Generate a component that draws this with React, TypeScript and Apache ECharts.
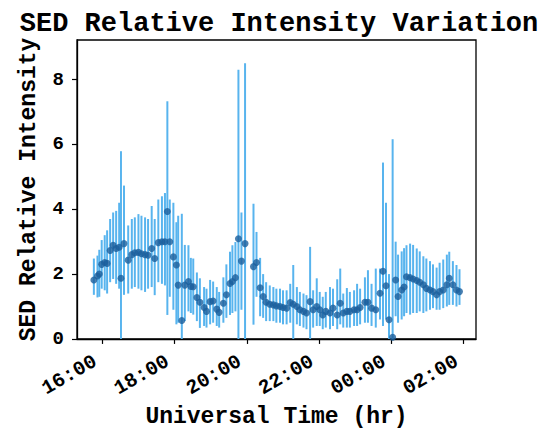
import React, { useEffect, useRef } from "react";
import * as echarts from "echarts";

// Observation times (UT, HH:MM); times after midnight belong to the next day
const times = [
  "15:46", "15:52", "15:55", "15:59", "16:04", "16:08", "16:13", "16:18", "16:23", "16:28",
  "16:31", "16:36", "16:43", "16:49", "16:54", "17:00", "17:05", "17:11", "17:16", "17:22",
  "17:27", "17:33", "17:39", "17:44", "17:48", "17:52", "17:58", "18:03", "18:06", "18:12",
  "18:17", "18:23", "18:27", "18:31", "18:37", "18:42", "18:49", "18:53", "18:59", "19:04",
  "19:10", "19:14", "19:21", "19:26", "19:32", "19:36", "19:41", "19:46", "19:51", "19:57",
  "20:11", "20:16", "20:22", "20:27", "20:32", "20:38", "20:44", "20:49", "20:55", "21:00",
  "21:06", "21:12", "21:17", "21:23", "21:28", "21:34", "21:39", "21:45", "21:50", "21:56",
  "22:01", "22:06", "22:11", "22:18", "22:23", "22:30", "22:35", "22:40", "22:46", "22:51",
  "22:58", "23:03", "23:08", "23:16", "23:21", "23:27", "23:34", "23:41", "23:46", "23:51",
  "23:56", "00:02", "00:07", "00:11", "00:17", "00:21", "00:25", "00:31", "00:36", "00:42",
  "00:47", "00:53", "00:58", "01:04", "01:09", "01:15", "01:20", "01:26", "01:32", "01:36",
  "01:42", "01:48", "01:53",
];

// SED relative intensity
const intensity = [
  1.82, 1.94, 2.0, 2.3, 2.36, 2.33, 2.73, 2.89, 2.79, 2.83,
  1.87, 2.94, 2.43, 2.6, 2.66, 2.67, 2.63, 2.6, 2.58, 2.79,
  2.48, 2.97, 3.0, 3.0, 3.93, 3.0, 2.53, 2.28, 1.66, 0.57,
  1.66, 1.77, 1.62, 1.61, 1.28, 1.13, 0.97, 0.85, 1.15, 1.17,
  0.92, 0.82, 1.1, 1.36, 1.71, 1.77, 1.89, 3.09, 2.4, 2.94,
  2.23, 2.36, 1.58, 1.31, 1.13, 1.07, 1.05, 1.02, 1.0, 0.97,
  0.95, 1.12, 1.07, 1.0, 0.9, 0.85, 0.8, 1.15, 0.9, 1.0,
  0.9, 0.74, 0.85, 0.8, 0.95, 0.74, 1.1, 0.8, 0.85, 0.85,
  0.9, 0.9, 0.97, 1.13, 1.13, 0.95, 0.9, 1.41, 2.09, 1.64,
  0.59, 0.05, 1.82, 1.31, 1.51, 1.6, 1.92, 1.89, 1.85, 1.8,
  1.75, 1.67, 1.56, 1.51, 1.46, 1.36, 1.46, 1.51, 1.67, 1.87,
  1.67, 1.51, 1.46,
];

// Lower end of each error bar
const errLow = [
  1.36, 1.28, 1.3, 1.55, 1.5, 1.4, 1.75, 1.85, 1.7, 1.55,
  0.0, 1.36, 1.4, 1.55, 1.6, 1.55, 1.5, 1.45, 1.55, 1.6,
  1.35, 1.75, 1.7, 1.65, 0.74, 1.3, 0.9, 0.45, 0.5, 0.0,
  0.55, 0.85, 0.8, 0.75, 0.55, 0.34, 0.4, 0.35, 0.45, 0.5,
  0.4, 0.35, 0.5, 0.65, 0.74, 0.8, 0.85, 0.0, 0.9, 0.0,
  0.44, 1.3, 0.7, 0.65, 0.55, 0.55, 0.55, 0.5, 0.5, 0.45,
  0.45, 0.5, 0.0, 0.45, 0.4, 0.35, 0.3, 0.0, 0.35, 0.4,
  0.4, 0.3, 0.35, 0.3, 0.4, 0.3, 0.45, 0.35, 0.35, 0.35,
  0.4, 0.4, 0.45, 0.5, 0.5, 0.4, 0.35, 0.6, 0.4, 0.6,
  0.0, 0.0, 0.7, 0.5, 0.6, 0.7, 0.8, 0.75, 0.8, 0.8,
  0.85, 0.8, 0.85, 0.9, 0.95, 0.9, 0.9, 0.95, 1.0, 1.05,
  1.05, 1.0, 1.05,
];

// Upper end of each error bar
const errHigh = [
  2.48, 2.57, 2.75, 3.05, 3.2, 3.35, 3.7, 3.9, 3.95, 4.2,
  5.79, 4.73, 3.5, 3.7, 3.75, 3.85, 3.8, 3.75, 3.7, 4.1,
  3.7, 4.3, 4.4, 4.5, 7.33, 4.3, 4.2, 3.6, 3.8, 3.86,
  2.9, 2.89, 2.5, 2.48, 2.05, 1.87, 1.6, 1.55, 1.82, 1.77,
  1.6, 1.45, 1.9, 2.3, 2.69, 2.89, 2.99, 8.3, 3.9, 8.5,
  4.17, 3.3, 2.5, 2.0, 1.75, 1.65, 1.6, 1.55, 1.55, 1.5,
  1.5, 1.7, 2.28, 1.6, 1.45, 1.4, 1.35, 2.84, 1.5, 1.87,
  1.45, 1.3, 1.45, 1.6, 1.55, 1.84, 2.17, 1.4, 1.57, 1.45,
  1.5, 1.7, 1.55, 1.9, 2.12, 1.7, 2.17, 2.17, 5.44, 4.2,
  2.0, 6.16, 3.0, 2.6, 2.7, 2.8, 2.89, 2.94, 2.9, 2.79,
  2.7, 2.55, 2.48, 2.4, 2.3, 2.2, 2.35, 2.45, 2.6, 2.69,
  2.4, 2.28, 2.15,
];

// Axis ticks
const xTickHours = [16, 18, 20, 22, 24, 26];
const xTickLabels = ["16:00", "18:00", "20:00", "22:00", "00:00", "02:00"];
const yTicks = [0, 2, 4, 6, 8];

const FONT = "'Liberation Mono', 'Courier New', monospace";

function toHours(t: string): number {
  const [h, m] = t.split(":").map(Number);
  const hh = h < 12 ? h + 24 : h;
  return hh + m / 60;
}

export default function App() {
  const ref = useRef<HTMLDivElement>(null);

  useEffect(() => {
    if (!ref.current) return;
    const chart = echarts.init(ref.current, undefined, { renderer: "svg" });
    const xs = times.map(toHours);
    const points = xs.map((x, i) => [x, intensity[i]]);
    const bars = xs.map((x, i) => [x, errLow[i], errHigh[i]]);

    chart.setOption({
      animation: false,
      backgroundColor: "#ffffff",
      title: {
        text: "SED Relative Intensity Variation",
        left: 274,
        textAlign: "center",
        top: 5,
        textStyle: { fontFamily: FONT, fontWeight: "bold", fontSize: 27, color: "#000" },
      },
      grid: {
        left: 77,
        right: 72,
        top: 40,
        bottom: 92,
        show: true,
        borderColor: "#000",
        borderWidth: 1.3,
        backgroundColor: "transparent",
      },
      xAxis: {
        type: "value",
        min: 15.3,
        max: 26.34,
        name: "Universal Time (hr)",
        nameLocation: "middle",
        nameGap: 66,
        nameTextStyle: { fontFamily: FONT, fontWeight: "bold", fontSize: 23, color: "#000" },
        axisLine: { show: true, onZero: false, lineStyle: { color: "#000", width: 1.3 } },
        axisTick: {
          show: true,
          length: 5,
          customValues: xTickHours,
          lineStyle: { color: "#000", width: 1.2 },
        },
        axisLabel: {
          customValues: xTickHours,
          rotate: 30,
          margin: 17,
          padding: [0, 8, 0, 0],
          fontFamily: FONT,
          fontWeight: "bold",
          fontSize: 20,
          color: "#000",
          formatter: (v: number) => {
            const idx = xTickHours.indexOf(Math.round(v));
            return idx >= 0 ? xTickLabels[idx] : "";
          },
        },
        splitLine: { show: false },
      },
      yAxis: {
        type: "value",
        min: 0,
        max: 9.22,
        name: "SED Relative Intensity",
        nameLocation: "middle",
        nameGap: 37,
        nameTextStyle: { fontFamily: FONT, fontWeight: "bold", fontSize: 23, color: "#000" },
        axisLine: { show: true, lineStyle: { color: "#000", width: 1.3 } },
        axisTick: {
          show: true,
          length: 5,
          customValues: yTicks,
          lineStyle: { color: "#000", width: 1.2 },
        },
        axisLabel: {
          customValues: yTicks,
          margin: 13,
          fontFamily: FONT,
          fontWeight: "bold",
          fontSize: 19,
          color: "#000",
        },
        splitLine: { show: false },
      },
      series: [
        {
          type: "custom",
          z: 1,
          data: bars,
          encode: { x: 0, y: [1, 2] },
          renderItem: (params: any, api: any) => {
            const x = api.value(0);
            const p1 = api.coord([x, api.value(1)]);
            const p2 = api.coord([x, api.value(2)]);
            return {
              type: "line",
              shape: { x1: p1[0], y1: p1[1], x2: p2[0], y2: p2[1] },
              style: { stroke: "#58b4ee", lineWidth: 2 },
            };
          },
        },
        {
          type: "scatter",
          z: 2,
          data: points,
          symbol: "circle",
          symbolSize: 7,
          itemStyle: { color: "#1b5f9c" },
        },
      ],
    });

    return () => chart.dispose();
  }, []);

  return (
    <div
      ref={ref}
      style={{ position: "fixed", left: 0, top: 0, width: 548, height: 433, background: "#fff" }}
    />
  );
}
